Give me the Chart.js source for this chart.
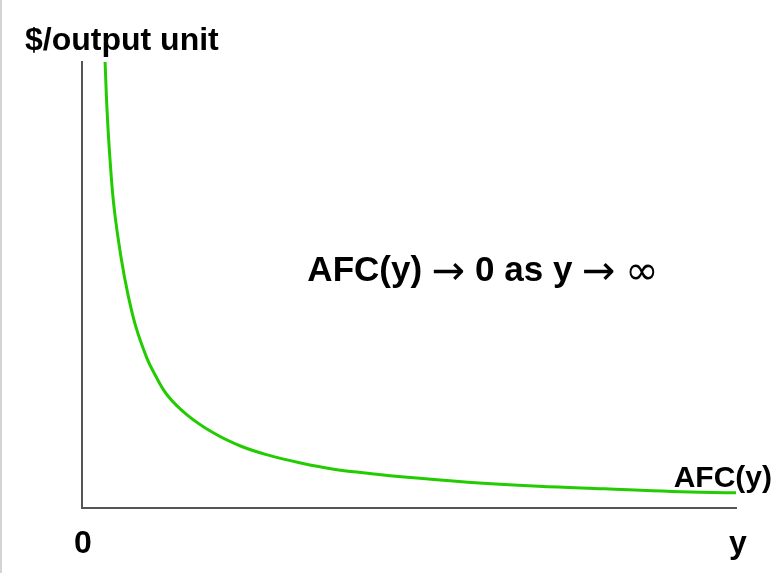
<!DOCTYPE html>
<html>
<head>
<meta charset="utf-8">
<script src="https://cdn.jsdelivr.net/npm/chart.js@4"></script>
<style>
  html, body { margin: 0; padding: 0; background: #fff; }
  #wrap { width: 775px; height: 573px; border-left: 2px solid #d4d4d4; box-sizing: border-box; }
</style>
</head>
<body>
<div id="wrap"><canvas id="afc" width="773" height="573"></canvas></div>
<script>
// output y (0..100) and average fixed cost
const outputY = [3.53, 3.83, 4.29, 4.91, 5.98, 7.01, 8.24, 9.92, 10.94, 12.99, 16.06, 20.14, 24.23, 28.37, 33.44, 38.5, 43.7, 48.8, 59.0, 69.8, 79.9, 90.2, 100];
const afcVals = [100, 89.2, 78.0, 67.3, 56.1, 48.0, 40.6, 33.6, 30.5, 25.4, 20.9, 16.8, 13.9, 11.9, 10.1, 8.7, 7.8, 7.0, 5.8, 4.9, 4.3, 3.7, 3.4];

const yAxisTitle = '$/output unit';
const xAxisTitle = 'y';
const originLabel = '0';
const curveLabel = 'AFC(y)';
const bold = 'bold 35px "Liberation Sans", Arial, sans-serif';
const sym = '40px "DejaVu Sans", sans-serif';
const noteParts = [
  ['AFC(y) ', bold], ['\u2192', sym], [' 0 as y ', bold], ['\u2192', sym], [' ', bold], ['\u221E', sym]
];

const labels = {
  id: 'labels',
  afterDraw(chart) {
    const c = chart.ctx;
    const x = chart.scales.x;
    c.save();
    c.fillStyle = '#000';
    c.textBaseline = 'alphabetic';
    c.font = 'bold 32px "Liberation Sans", Arial, sans-serif';
    c.textAlign = 'left';
    c.fillText(yAxisTitle, 23, 50);
    c.textAlign = 'center';
    c.fillText(originLabel, x.getPixelForValue(0) + 1, 553);
    c.fillText(xAxisTitle, x.getPixelForValue(100) + 2, 553);
    c.font = 'bold 30px "Liberation Sans", Arial, sans-serif';
    c.textAlign = 'right';
    c.fillText(curveLabel, 770, 487);
    // centred note built from pieces so arrows can use a symbol font
    c.textAlign = 'left';
    let total = 0;
    noteParts.forEach(([t, f]) => { c.font = f; total += c.measureText(t).width; });
    let px = 481 - total / 2;
    noteParts.forEach(([t, f]) => {
      c.font = f;
      c.fillText(t, px, f === sym ? 284 : 281);
      px += c.measureText(t).width;
    });
    c.restore();
  }
};

new Chart(document.getElementById('afc'), {
  type: 'line',
  data: {
    datasets: [{
      label: curveLabel,
      data: outputY.map((v, i) => ({ x: v, y: afcVals[i] })),
      borderColor: '#22cc00',
      borderWidth: 3,
      pointRadius: 0,
      tension: 0.4,
      fill: false
    }]
  },
  options: {
    responsive: false,
    animation: false,
    devicePixelRatio: 1,
    layout: { padding: { left: 80, right: 39, top: 62, bottom: 65 } },
    plugins: { legend: { display: false }, tooltip: { enabled: false } },
    scales: {
      x: {
        type: 'linear', min: 0, max: 100,
        ticks: { display: false },
        grid: { display: false, drawTicks: false },
        border: { display: true, color: '#555', width: 2 }
      },
      y: {
        min: 0, max: 100,
        ticks: { display: false },
        grid: { display: false, drawTicks: false },
        border: { display: true, color: '#555', width: 2 }
      }
    }
  },
  plugins: [labels]
});
</script>
</body>
</html>
